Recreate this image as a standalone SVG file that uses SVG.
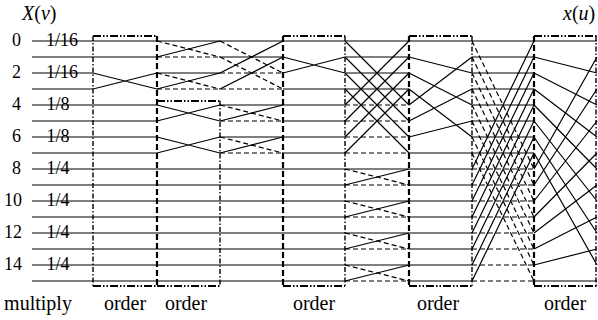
<svg xmlns="http://www.w3.org/2000/svg" width="598" height="320" viewBox="0 0 598 320">
<style>
.s{stroke:#000;stroke-width:1.2;fill:none}
.d{stroke:#000;stroke-width:1.2;fill:none;stroke-dasharray:5 3}
.bt{stroke:#000;stroke-width:2.2;fill:none;stroke-dasharray:8 2 1.5 2 1.5 2}
.bl{stroke:#000;stroke-width:1.4;fill:none;stroke-dasharray:5 2 1.5 2}
.br{stroke:#000;stroke-width:2.2;fill:none;stroke-dasharray:6 3}
text{font-family:"Liberation Serif","Times New Roman",serif;fill:#000}
.lab{font-size:20px}
.num{font-size:18px;text-anchor:end}
.mul{font-size:18px;text-anchor:middle}
.bot{font-size:20px;text-anchor:middle}
</style>
<rect width="598" height="320" fill="#fff"/>
<g id="connectors">
<path class="s" d="M32 41H597 M32 57H157 M220 57H283 M345 57H409 M472 57H534 M32 73H93 M157 73H220 M345 73H409 M472 73H534 M32 89H93 M283 89H409 M472 89H534 M32 105H157 M220 105H345 M472 105H534 M32 121H157 M283 121H345 M472 121H534 M32 137H157 M220 137H345 M472 137H534 M32 153H157 M283 153H345 M409 153H534 M32 169H472 M32 185H345 M409 185H472 M32 201H472 M32 217H345 M409 217H472 M32 233H472 M32 249H345 M409 249H472 M32 265H472 M32 281H345 M409 281H472 M534 281H597"/>
<path class="d" d="M157 57H220 M220 73H283 M157 89H283 M345 105H409 M220 121H283 M345 121H409 M345 137H409 M220 153H283 M345 153H409 M345 185H409 M345 217H409 M345 249H409 M345 281H409 M472 169H534 M472 185H534 M472 201H534 M472 217H534 M472 233H534 M472 249H534 M472 265H534 M472 281H534"/>
<path class="s" d="M93 73L157 89 M93 89L157 73 M157 57L220 41 M157 89L220 73 M157 105L220 121 M157 121L220 105 M157 137L220 153 M157 153L220 137 M220 73L283 41 M220 89L283 57 M220 121L283 105 M220 153L283 137 M283 57L345 73 M283 73L345 57 M345 105L409 41 M345 121L409 57 M345 137L409 73 M345 153L409 89 M345 41L409 105 M345 57L409 121 M345 73L409 137 M345 89L409 153 M345 185L409 169 M345 217L409 201 M345 249L409 233 M345 281L409 265 M409 57L472 73 M409 73L472 105 M409 89L472 137 M409 105L472 57 M409 121L472 89 M409 137L472 121 M472 169L534 41 M472 185L534 57 M472 201L534 73 M472 217L534 89 M472 233L534 105 M472 249L534 121 M472 265L534 137 M472 281L534 153 M534 57L597 73 M534 73L597 105 M534 89L597 137 M534 105L597 169 M534 121L597 201 M534 137L597 233 M534 153L597 265 M534 169L597 57 M534 185L597 89 M534 201L597 121 M534 217L597 153 M534 233L597 185 M534 249L597 217 M534 265L597 249"/>
<path class="d" d="M157 41L220 57 M157 73L220 89 M220 41L283 73 M220 57L283 89 M220 105L283 121 M220 137L283 153 M345 169L409 185 M345 201L409 217 M345 233L409 249 M345 265L409 281 M472 41L534 169 M472 57L534 185 M472 73L534 201 M472 89L534 217 M472 105L534 233 M472 121L534 249 M472 137L534 265 M472 153L534 281"/>
</g>
<g id="multiply">
<text class="num" x="21" y="46">0</text>
<text class="num" x="21" y="78">2</text>
<text class="num" x="21" y="110">4</text>
<text class="num" x="21" y="142">6</text>
<text class="num" x="21" y="174">8</text>
<text class="num" x="22" y="206">10</text>
<text class="num" x="22" y="238">12</text>
<text class="num" x="22" y="270">14</text>
<text class="mul" x="62" y="46">1/16</text>
<text class="mul" x="62" y="78">1/16</text>
<text class="mul" x="58" y="110">1/8</text>
<text class="mul" x="58" y="142">1/8</text>
<text class="mul" x="58" y="174">1/4</text>
<text class="mul" x="58" y="206">1/4</text>
<text class="mul" x="58" y="238">1/4</text>
<text class="mul" x="58" y="270">1/4</text>
<text class="bot" x="38" y="310">multiply</text>
</g>
<g id="order1">
<path class="bt" d="M93 36H157 M93 286H157"/>
<path class="bl" d="M93 36V286"/>
<path class="br" d="M157 36V286"/>
<text class="bot" x="125" y="310">order</text>
</g>
<g id="order2">
<path class="bt" d="M157 101H220 M157 286H220"/>
<path class="bl" d="M220 101V286"/>
<text class="bot" x="186" y="310">order</text>
</g>
<g id="order3">
<path class="bt" d="M283 36H345 M283 286H345"/>
<path class="br" d="M283 36V286"/>
<path class="bl" d="M345 36V286"/>
<text class="bot" x="314" y="310">order</text>
</g>
<g id="order4">
<path class="bt" d="M409 36H472 M409 286H472"/>
<path class="br" d="M409 36V286"/>
<path class="bl" d="M472 36V286"/>
<text class="bot" x="438" y="310">order</text>
</g>
<g id="order5">
<path class="bt" d="M534 36H597 M534 286H597"/>
<path class="br" d="M534 36V286"/>
<path class="bl" d="M596 36V286"/>
<text class="bot" x="565" y="310">order</text>
</g>
<g id="labels">
<text class="lab" x="22" y="20"><tspan font-style="italic">X</tspan>(<tspan font-style="italic">v</tspan>)</text>
<text class="lab" x="563" y="20"><tspan font-style="italic">x</tspan>(<tspan font-style="italic">u</tspan>)</text>
</g>
</svg>
